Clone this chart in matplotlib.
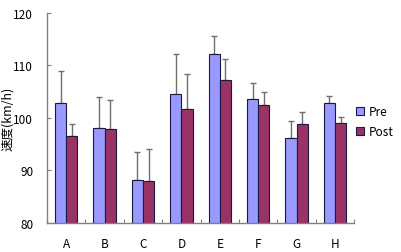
import numpy as np
import matplotlib.pyplot as plt

plt.rcParams['font.family'] = ['Noto Sans CJK JP', 'DejaVu Sans']

# data
categories = ['A', 'B', 'C', 'D', 'E', 'F', 'G', 'H']
pre = [102.8, 98.0, 88.1, 104.5, 112.2, 103.6, 96.1, 102.9]
pre_err = [6.1, 5.9, 5.4, 7.6, 3.4, 3.0, 3.3, 1.2]
post = [96.5, 97.8, 88.0, 101.7, 107.2, 102.4, 98.8, 99.1]
post_err = [2.3, 5.6, 6.0, 6.6, 4.1, 2.6, 2.4, 1.1]

pre_color = '#9999FF'
post_color = '#993366'
axis_gray = '#808080'

fig = plt.figure(figsize=(4.02, 2.53), dpi=100)
ax = fig.add_axes([0.117, 0.115, 0.764, 0.830])

x = np.arange(len(categories))
w = 0.29
ax.bar(x - w / 2, pre, w, color=pre_color, edgecolor='#1a1a40',
       linewidth=0.8, label='Pre', zorder=2)
ax.bar(x + w / 2, post, w, color=post_color, edgecolor='#1a1a40',
       linewidth=0.8, label='Post', zorder=2)
ax.errorbar(x - w / 2, pre, yerr=[np.zeros(len(pre)), pre_err], fmt='none',
            ecolor='#707070', elinewidth=1, capsize=2.5, capthick=1, zorder=1)
ax.errorbar(x + w / 2, post, yerr=[np.zeros(len(post)), post_err], fmt='none',
            ecolor='#707070', elinewidth=1, capsize=2.5, capthick=1, zorder=1)

ax.set_ylim(80, 120)
ax.set_xlim(-0.5, len(categories) - 0.5)
ax.set_yticks([80, 90, 100, 110, 120])

# category labels centred, tick marks at the boundaries
ax.set_xticks(np.arange(len(categories) + 1) - 0.5)
ax.set_xticklabels([])
ax.set_xticks(x, minor=True)
ax.set_xticklabels(categories, minor=True)
ax.tick_params(axis='x', which='minor', length=0, pad=10, labelsize=8.5)
ax.tick_params(axis='x', which='major', direction='in', length=3,
               color=axis_gray)
ax.tick_params(axis='y', direction='in', length=3, color=axis_gray,
               labelsize=8.5, pad=10)

for side in ['top', 'right']:
    ax.spines[side].set_visible(False)
for side in ['left', 'bottom']:
    ax.spines[side].set_color(axis_gray)
    ax.spines[side].set_linewidth(1)

# y label placed by hand so it stays inside the figure
fig.text(8 / 402, 0.53, '速度(km/h)', rotation=90, fontsize=9,
         ha='center', va='center')

leg = ax.legend(loc='upper left', bbox_to_anchor=(0.99, 0.585), frameon=False,
                fontsize=8.5, handlelength=0.7, handleheight=0.7,
                handletextpad=0.4, labelspacing=0.6, borderaxespad=0)

fig.savefig('out.png', dpi=100)
